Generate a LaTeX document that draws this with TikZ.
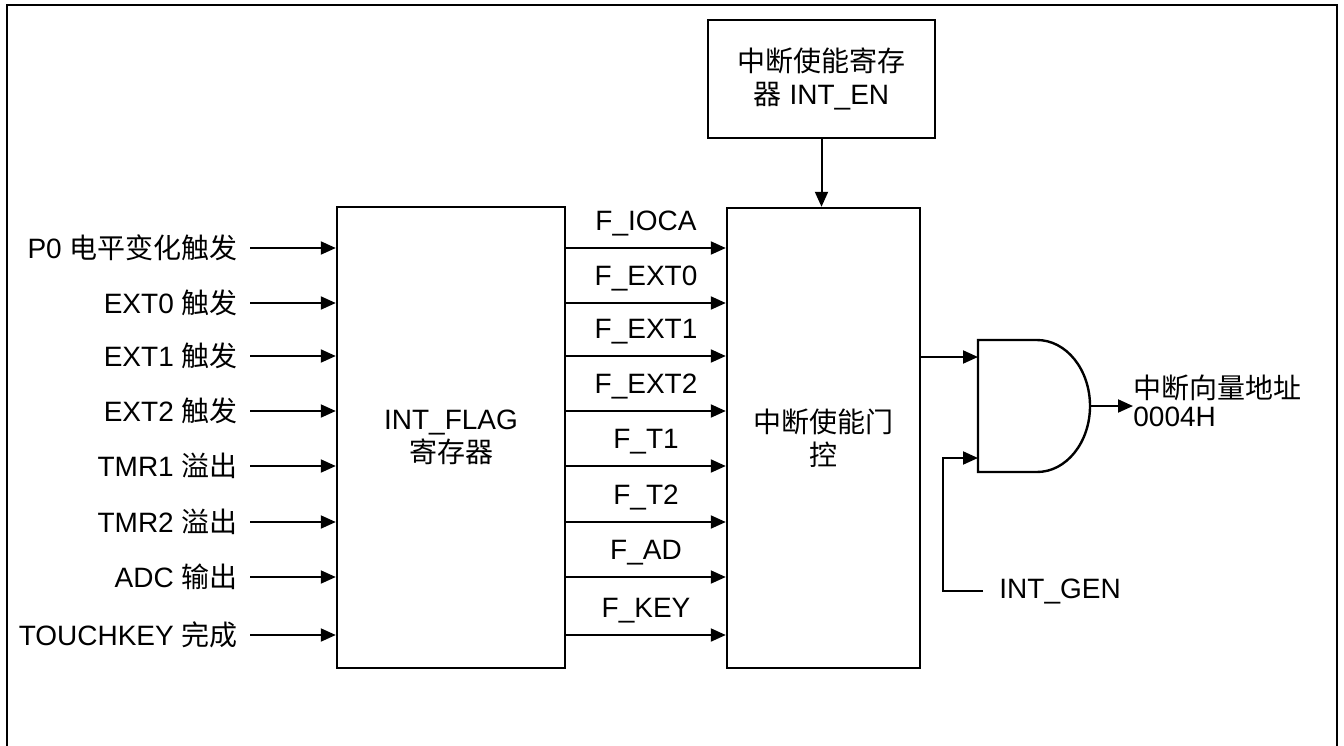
\documentclass[tikz,border=0pt]{standalone}
\usepackage{fontspec}
\setmainfont{Liberation Sans}
\newfontfamily\cjk{Noto Sans CJK SC}
\usetikzlibrary{arrows.meta,positioning}
\tikzset{
  blk/.style={draw, line width=1.2pt, inner sep=0pt, align=center},
  sig/.style={line width=1pt, -{Triangle[length=7.5pt,width=6.5pt]}},
  wire/.style={line width=1pt},
  lab/.style={font=\fontsize{14}{16.5}\selectfont, inner sep=0pt},
  srclab/.style={lab, anchor=east, inner xsep=6pt}
}

\begin{document}
\begin{tikzpicture}[x=0.5pt,y=-0.5pt]
\useasboundingbox (0,0) rectangle (1344,745);
% outer frame (bottom edge off the page)
\draw[line width=1.2pt] (7,760) -- (7,5) -- (1337,5) -- (1337,760);

% blocks
\node[blk, lab, minimum width=114pt, minimum height=230.5pt] (flag) at (451,437.5)
  {INT\_FLAG\\{\cjk 寄存器}};
\node[blk, lab, minimum width=96.5pt, minimum height=230pt] (ctl) at (823.5,438)
  {{\cjk 中断使能门}\\{\cjk 控}};
\node[blk, lab, minimum width=113.5pt, minimum height=59pt] (en) at (821.5,79)
  {{\cjk 中断使能寄存}\\{\cjk 器} INT\_EN};
\draw[sig] (en.south) -- (en.south |- ctl.north);

% sources and flags
\foreach \y/\txt/\fl [count=\i] in {
    248/{P0 {\cjk 电平变化触发}}/F\_IOCA,
    303/{EXT0 {\cjk 触发}}/F\_EXT0,
    356/{EXT1 {\cjk 触发}}/F\_EXT1,
    411/{EXT2 {\cjk 触发}}/F\_EXT2,
    466/{TMR1 {\cjk 溢出}}/F\_T1,
    522/{TMR2 {\cjk 溢出}}/F\_T2,
    577/{ADC {\cjk 输出}}/F\_AD,
    635/{TOUCHKEY {\cjk 完成}}/F\_KEY}{
  \node[srclab] (src\i) at (250,\y) {\txt};
  \draw[sig] (src\i.east) -- (src\i.east -| flag.west);
  \draw[sig] (src\i.east -| flag.east) -- (src\i.east -| ctl.west)
    node[lab, midway, anchor=base, yshift=9pt] (f\i) {\fl};
}

% AND gate
\coordinate (g1) at (978,357);
\coordinate (g2) at (978,458);
\coordinate (gout) at (1090,406);
\draw[line width=1.2pt] (978,340) -- (1037,340)
  arc[start angle=-90, end angle=90, x radius=53, y radius=66]
  -- (978,472) -- cycle;
\draw[sig] (ctl.east |- g1) -- (g1);

\node[lab, anchor=west, inner xsep=8pt] (gen) at (983,591) {INT\_GEN};
\draw[sig] (gen.west) -- ++(-40,0) |- (g2);

\node[lab, anchor=west, align=left, font=\fontsize{14}{14}\selectfont] (vec) at (1133,401)
  {{\cjk 中断向量地址}\\0004H};
\draw[sig] (gout) -- (gout -| vec.west);
\end{tikzpicture}
\end{document}
